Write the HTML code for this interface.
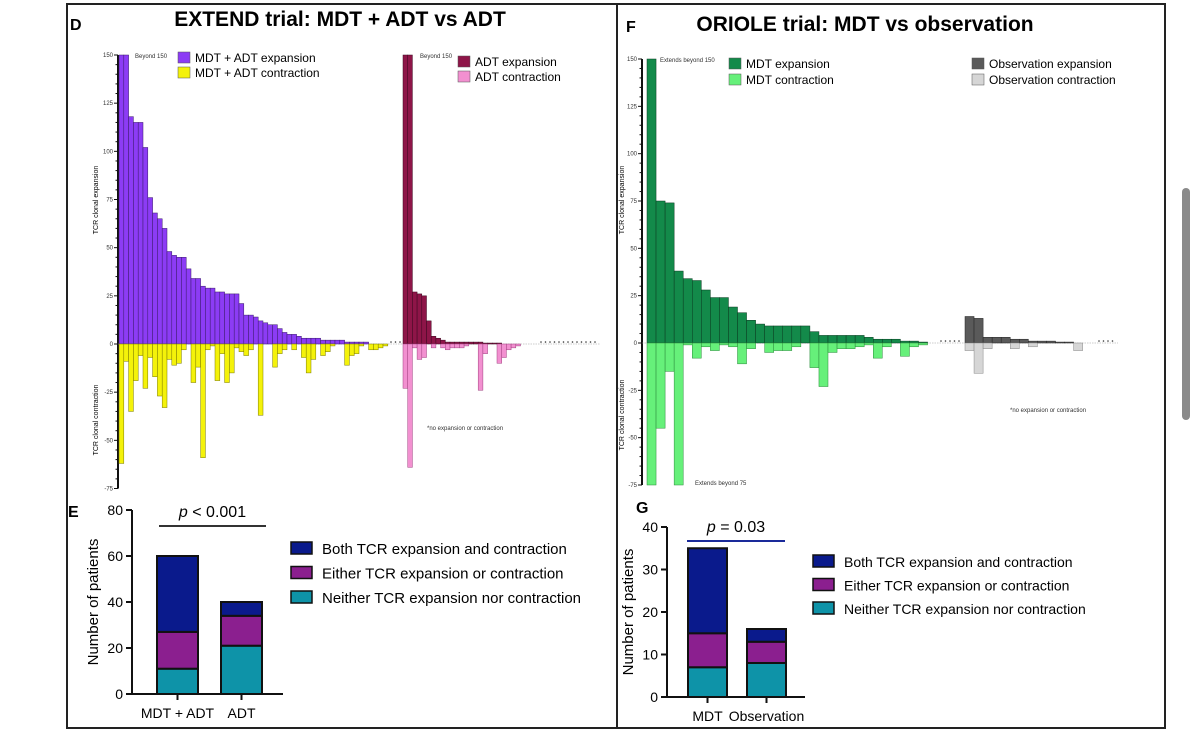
<!DOCTYPE html>
<html><head><meta charset="utf-8"><style>
body{margin:0;background:#fff;font-family:"Liberation Sans",Arial,sans-serif}
svg{display:block}
</style></head><body>
<svg id="fig" width="1200" height="743" viewBox="0 0 1200 743" xmlns="http://www.w3.org/2000/svg" font-family="Liberation Sans, Arial, sans-serif">
<rect x="0" y="0" width="1200" height="743" fill="#fff"/>
<rect x="67" y="4" width="550" height="724" fill="none" stroke="#222" stroke-width="2"/>
<rect x="617" y="4" width="548" height="724" fill="none" stroke="#222" stroke-width="2"/>
<rect x="1182" y="188" width="8" height="232" rx="4" fill="#8a8a8a"/>
<text x="70" y="30" font-size="16" font-weight="bold">D</text>
<text x="340" y="26" font-size="21" font-weight="bold" text-anchor="middle">EXTEND trial: MDT + ADT vs ADT</text>
<text x="626" y="32" font-size="16" font-weight="bold">F</text>
<text x="865" y="31" font-size="21" font-weight="bold" text-anchor="middle">ORIOLE trial: MDT vs observation</text>
<g id="g1"></g><g id="g2"></g><g id="g3"></g><g id="g4"></g>
</svg>
<script>
// ---- Data: EXTEND waterfall ----
const mdtAdtExpansion=[150,150,118,115,115,102,76,68,65,60,48,46,45,45,39,34,34,30,29,29,27,27,26,26,26,21,15,15,14,12,11,10,10,8,6,5,5,4,3,3,3,3,2,2,2,2,2,1,1,1,1,1,0,0,0,0];
const mdtAdtContraction=[-62,-9,-35,-19,-6,-23,-7,-17,-27,-33,-8,-11,-10,-3,0,-20,-12,-59,-3,-1,-19,-5,-20,-15,-2,-4,-6,-3,0,-37,0,0,-12,-5,-3,0,-3,0,-7,-15,-8,0,-6,-4,-1,0,0,-11,-6,-5,-1,0,-3,-3,-2,-1];
const adtExpansion=[150,150,27,26,25,12,4,3,2,1,1,1,1,1,1,1,1,0.5,0.5,0.5,0.5,0,0,0,0];
const adtContraction=[-23,-64,-2,-8,-7,0,-2,0,-2,-3,-2,-2,-2,-1,0,0,-24,-5,0,0,-10,-7,-3,-2,-1];
// ---- Data: ORIOLE waterfall ----
const mdtExpansion=[150,75,74,38,34,33,28,24,24,19,16,12,10,9,9,9,9,9,6,4,4,4,4,4,3,2,2,2,1,1,0.5];
const mdtContraction=[-75,-45,-15,-75,-1,-8,-2,-4,-1,-2,-11,-3,0,-5,-4,-4,-2,0,-13,-23,-5,-3,-3,-2,-1,-8,-2,0,-7,-2,-1];
const obsExpansion=[14,13,3,3,3,2,2,1,1,1,0.5,0.5,0];
const obsContraction=[-4,-16,-3,0,0,-3,0,-2,0,0,0,0,-4];
const waterTicks=[150,125,100,75,50,25,0,-25,-50,-75];
// ---- Data: stacked bars ----
const eCategories=["MDT + ADT","ADT"];
const eNeither=[11,21];const eEither=[16,13];const eBoth=[33,6];
const gCategories=["MDT","Observation"];
const gNeither=[7,8];const gEither=[8,5];const gBoth=[20,3];
const eTicks=[0,20,40,60,80];const gTicks=[0,10,20,30,40];
const legendLabels=["Both TCR expansion and contraction","Either TCR expansion or contraction","Neither TCR expansion nor contraction"];

const NS="http://www.w3.org/2000/svg";
function mk(parent,tag,attrs,text){const e=document.createElementNS(NS,tag);for(const k in attrs)e.setAttribute(k,attrs[k]);if(text!==undefined)e.textContent=text;parent.appendChild(e);return e;}

function waterAxis(g,ax,y0,ppu){
  const sy=v=>y0-v*ppu;
  const a=mk(g,'line',{x1:ax,x2:ax,y1:sy(150),y2:sy(-75),stroke:'#111','stroke-width':2});
  
  
  for(let v=-75;v<=150;v+=5){const major=v%25===0;
    const t=mk(g,'line',{x1:ax-(major?4:2.5),x2:ax,y1:sy(v),y2:sy(v),stroke:'#111','stroke-width':1});
    
    }
  waterTicks.forEach(v=>{const t=mk(g,'text',{x:ax-5,y:sy(v)+2,'font-size':6,'text-anchor':'end',fill:'#333'},String(v));
    
    });
  return sy;
}
function bars(g,x0,w,sy,vals,fill,stroke,name,clipTop,clipBot){
  vals.forEach((v,i)=>{if(v===0)return;let vv=Math.max(Math.min(v,clipTop),clipBot);
    const y=Math.min(sy(0),sy(vv)),h=Math.abs(sy(vv)-sy(0));
    const r=mk(g,'rect',{x:x0+i*w,y:y,width:w,height:Math.max(h,0.8),fill:fill,stroke:stroke,'stroke-width':0.5});
    
    });
}
function dots(g,x1,x2,y,name){for(let x=x1;x<=x2;x+=4.5){const c=mk(g,'circle',{cx:x,cy:y-2,r:0.8,fill:'#333'});
  
  }}
function txt(g,x,y,s,t,name,extra){const e=mk(g,'text',Object.assign({x:x,y:y,'font-size':s},extra||{}),t);
  
  return e;}
function leg(g,x,y,fill,label,name,s){const r=mk(g,'rect',{x:x,y:y,width:12,height:11,fill:fill,stroke:'#555','stroke-width':0.5});
  
  
  txt(g,x+17,y+10,s||12,label,name+'-label');}

// ---- EXTEND waterfall ----
(function(){const g=document.getElementById('g1');
  const sy=waterAxis(g,118,344,289/150);
  const zl=mk(g,'line',{x1:118,x2:600,y1:344,y2:344,stroke:'#999','stroke-width':0.6,'stroke-dasharray':'1.5,1'});
  
  
  bars(g,119,4.8,sy,mdtAdtExpansion,'#8c3cf5','#3a1a6a','mdt-adt-expansion-bar',150,-75);
  bars(g,119,4.8,sy,mdtAdtContraction,'#f4f20a','#7a7a00','mdt-adt-contraction-bar',150,-75);
  dots(g,391,400,344,'no-change-dot');
  bars(g,403,4.7,sy,adtExpansion,'#8e1548','#3d0820','adt-expansion-bar',150,-75);
  bars(g,403,4.7,sy,adtContraction,'#f290d0','#a04080','adt-contraction-bar',150,-75);
  dots(g,541,598,344,'no-change-dot');
  txt(g,135,58,6,'Beyond 150','beyond-150-note',{fill:'#333'});
  txt(g,420,58,6,'Beyond 150','adt-beyond-150-note',{fill:'#333'});
  txt(g,427,430,6,'*no expansion or contraction','no-change-note',{fill:'#333'});
  leg(g,178,52,'#8c3cf5','MDT + ADT expansion','legend-mdt-adt-expansion');
  leg(g,178,67,'#f4f20a','MDT + ADT contraction','legend-mdt-adt-contraction');
  leg(g,458,56,'#8e1548','ADT expansion','legend-adt-expansion');
  leg(g,458,71,'#f290d0','ADT contraction','legend-adt-contraction');
  txt(g,98,200,7,'TCR clonal expansion','y-title-expansion',{transform:'rotate(-90 98 200)','text-anchor':'middle'});
  txt(g,98,420,7,'TCR clonal contraction','y-title-contraction',{transform:'rotate(-90 98 420)','text-anchor':'middle'});
})();
// ---- ORIOLE waterfall ----
(function(){const g=document.getElementById('g2');
  const sy=waterAxis(g,642,343,284/150);
  const zl=mk(g,'line',{x1:642,x2:1118,y1:343,y2:343,stroke:'#999','stroke-width':0.6,'stroke-dasharray':'1.5,1'});
  
  
  bars(g,647,9.05,sy,mdtExpansion,'#138a4a','#0a3a20','mdt-expansion-bar',150,-75);
  bars(g,647,9.05,sy,mdtContraction,'#66f07a','#2a8a3a','mdt-contraction-bar',150,-75);
  dots(g,941,962,343,'no-change-dot');
  bars(g,965,9.05,sy,obsExpansion,'#5a5a5a','#222','observation-expansion-bar',150,-75);
  bars(g,965,9.05,sy,obsContraction,'#d6d6d6','#888','observation-contraction-bar',150,-75);
  dots(g,1099,1115,343,'no-change-dot');
  txt(g,660,62,6,'Extends beyond 150','beyond-150-note',{fill:'#333'});
  txt(g,695,485,6,'Extends beyond 75','beyond-75-note',{fill:'#333'});
  txt(g,1010,412,6,'*no expansion or contraction','no-change-note',{fill:'#333'});
  leg(g,729,58,'#138a4a','MDT expansion','legend-mdt-expansion');
  leg(g,729,74,'#66f07a','MDT contraction','legend-mdt-contraction');
  leg(g,972,58,'#5a5a5a','Observation expansion','legend-observation-expansion');
  leg(g,972,74,'#d6d6d6','Observation contraction','legend-observation-contraction');
  txt(g,624,200,7,'TCR clonal expansion','y-title-expansion',{transform:'rotate(-90 624 200)','text-anchor':'middle'});
  txt(g,624,415,7,'TCR clonal contraction','y-title-contraction',{transform:'rotate(-90 624 415)','text-anchor':'middle'});
})();
// ---- stacked bar charts ----
function stacked(g,o){
  const sy=v=>o.y0-(v/o.max)*(o.y0-o.yTop);
  const ax=mk(g,'path',{d:`M${o.ax},${o.yTop} V${o.y0} H${o.xEnd}`,fill:'none',stroke:'#111','stroke-width':2});
  
  
  o.ticks.forEach(v=>{const t=mk(g,'line',{x1:o.ax-6,x2:o.ax,y1:sy(v),y2:sy(v),stroke:'#111','stroke-width':2});
    
    
    txt(g,o.ax-9,sy(v)+5,14,String(v),'y-tick-label',{'text-anchor':'end'});});
  txt(g,o.ax-34,(o.y0+o.yTop)/2,15,'Number of patients','y-axis-title',{transform:`rotate(-90 ${o.ax-34} ${(o.y0+o.yTop)/2})`,'text-anchor':'middle'});
  const cols=['#0a1a8c','#8b1f8f','#0e93a8'];
  o.cats.forEach((c,i)=>{const x=o.bx[i];let base=0;
    [[o.neither[i],cols[2],'neither'],[o.either[i],cols[1],'either'],[o.both[i],cols[0],'both']].forEach(s=>{
      const r=mk(g,'rect',{x:x,y:sy(base+s[0]),width:o.bw,height:sy(base)-sy(base+s[0]),fill:s[1],stroke:'#111','stroke-width':2});
      
      
      base+=s[0];});
    const t=mk(g,'line',{x1:x+o.bw/2,x2:x+o.bw/2,y1:o.y0,y2:o.y0+6,stroke:'#111','stroke-width':2});
    
    
    txt(g,x+o.bw/2,o.y0+24,14,c,'x-tick-label',{'text-anchor':'middle'});});
  const pl=mk(g,'line',{x1:o.px[0],x2:o.px[1],y1:o.py,y2:o.py,stroke:o.pc,'stroke-width':2});
  
  
  const pt=txt(g,(o.px[0]+o.px[1])/2,o.py-9,16,'','p-value',{'text-anchor':'middle'});
  const it=document.createElementNS(NS,'tspan');it.setAttribute('font-style','italic');it.textContent='p';pt.appendChild(it);
  pt.appendChild(document.createTextNode(o.ptext));
  const names=['both','either','neither'];
  legendLabels.forEach((l,i)=>{const r=mk(g,'rect',{x:o.lx,y:o.ly+i*o.ld,width:21,height:12,fill:cols[i],stroke:'#111','stroke-width':1.5});
    
    
    txt(g,o.lx+31,o.ly+i*o.ld+12,o.lfs,l,'legend-'+names[i]+'-label');});
}
txt(document.getElementById('g3'),68,517,16,'E','panel-label-e',{'font-weight':'bold'});
stacked(document.getElementById('g3'),{ax:132,y0:694,yTop:510,max:80,xEnd:283,ticks:eTicks,cats:eCategories,neither:eNeither,either:eEither,both:eBoth,bx:[157,221],bw:41,px:[159,266],py:526,pc:'#333',ptext:' < 0.001',lx:291,ly:542,ld:24.5,lfs:15});
txt(document.getElementById('g4'),636,513,16,'G','panel-label-g',{'font-weight':'bold'});
stacked(document.getElementById('g4'),{ax:667,y0:697,yTop:527,max:40,xEnd:805,ticks:gTicks,cats:gCategories,neither:gNeither,either:gEither,both:gBoth,bx:[688,747],bw:39,px:[687,785],py:541,pc:'#1a2a9a',ptext:' = 0.03',lx:813,ly:555,ld:23.5,lfs:14});
</script>
</body></html>
